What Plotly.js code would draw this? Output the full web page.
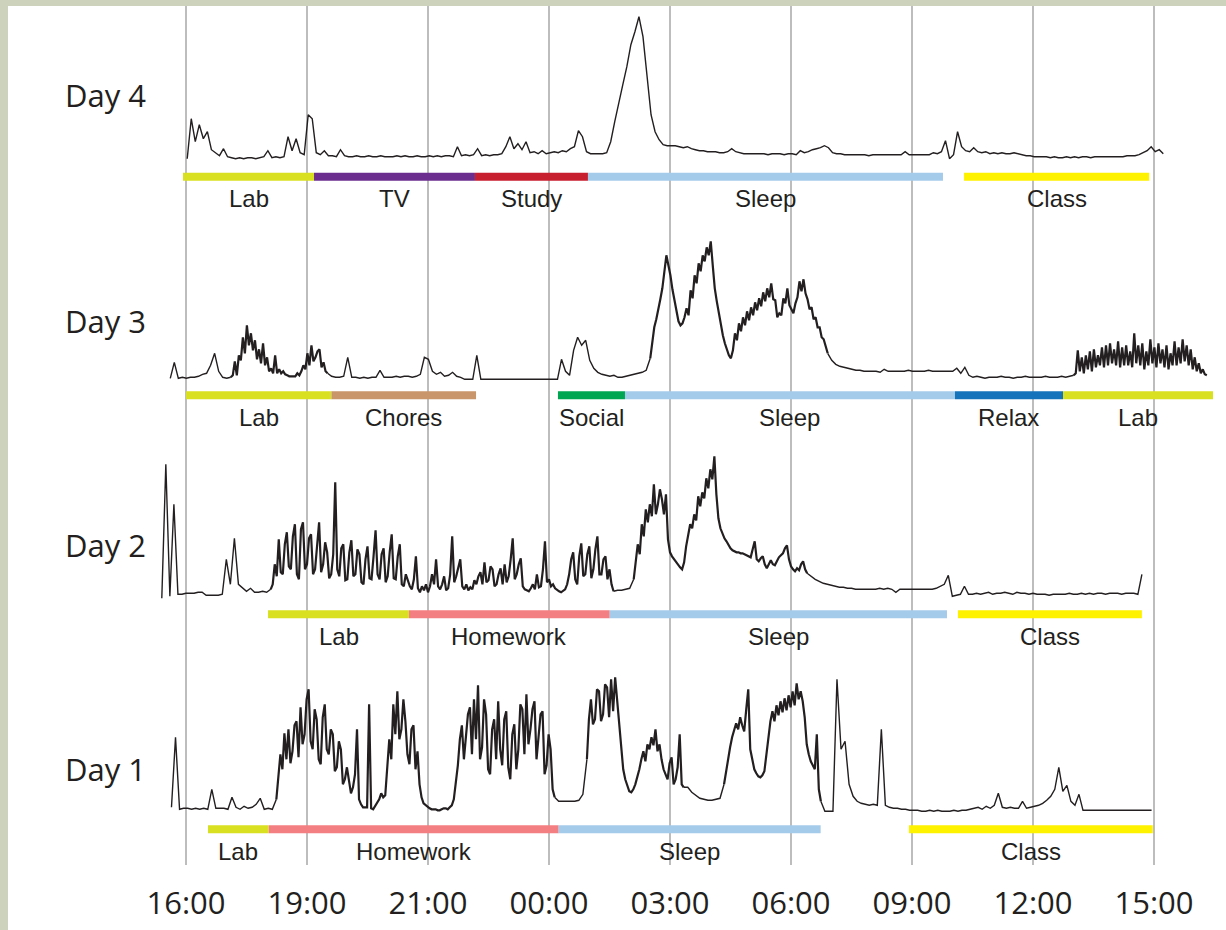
<!DOCTYPE html>
<html>
<head>
<meta charset="utf-8">
<script src="https://cdn.plot.ly/plotly-3.0.1.min.js"></script>
<style>
  html, body { margin: 0; padding: 0; background: #cdd2bc; width: 1226px; height: 930px; overflow: hidden; }
  #chart { position: absolute; left: 8px; top: 6px; width: 1218px; height: 924px; background: #ffffff; }
</style>
</head>
<body>
<div id="chart"></div>
<script>
// ---------------- DATA ----------------
const tickLabels = ['16:00', '19:00', '21:00', '00:00', '03:00', '06:00', '09:00', '12:00', '15:00'];
const dayNames = ['Day 1', 'Day 2', 'Day 3', 'Day 4'];

// Signal samples (time in tick units). Calm stretches: one sample per 1/30 tick;
// busy stretches: one sample per 1/60 tick.
const coarseStep = 1 / 30;
const fineStep = 1 / 60;

// ---- Day 4 ----
const day4SegAStart = 0.01;
const day4SegA = [
  18, 58, 35, 52, 38, 45, 27, 24, 21, 28, 20, 19,
  18, 19, 18, 19, 19, 18, 19, 20, 26, 19, 20, 19, 20,
  40, 26, 38, 24, 22, 62, 58, 24, 22,
  26, 21, 21, 20, 27, 21, 20,
  20, 21, 20, 20, 21, 20, 20, 21, 20, 20, 20, 21, 20, 21, 20, 20, 21, 20, 20, 21, 20, 21, 20, 21, 21, 20,
  30, 21, 22, 21, 22, 28, 21, 22, 21, 22, 22, 23,
  30, 40, 28, 33, 27, 35, 24, 25, 23, 26, 23, 24, 25, 24, 26, 25, 28, 30, 46, 40, 25, 23, 23, 23, 23, 24,
  35, 55, 75, 92, 110, 132, 145, 160, 140, 100, 62, 45, 37, 32, 31,
  31, 31, 30, 29, 30, 28, 27, 26, 26, 25, 25, 25, 24, 24, 25, 28, 25, 24, 23, 23,
  23, 23, 23, 23, 22, 23, 23, 23, 22, 23, 23,
  22, 26, 24, 25, 27, 28, 29, 31, 29, 24, 23,
  23, 22, 22, 22, 22, 22, 22, 21, 22, 22, 22, 22, 22, 22, 22,
  22, 25, 22, 22, 22, 22, 22, 22, 24, 23, 25,
  36, 18, 22, 45, 30, 26, 25, 29, 25, 24, 25, 23, 24, 23, 24, 23, 23, 24, 23, 22, 21, 21, 20,
  20, 20, 20, 19, 20, 19, 19, 20, 19, 20, 19, 20, 20, 19, 20, 20, 20, 20, 20,
  20, 20, 20, 21, 21, 21, 22, 24, 26, 30, 25, 27, 23
];

// ---- Day 3 ----
const day3SegAStart = -0.13;
const day3SegA = [17, 33, 17, 18, 17, 18, 18, 19, 21, 22, 30, 42, 24, 18, 17, 18];
const day3SegBStart = 0.37;
const day3SegB = [
  18, 20, 34, 20, 40, 35, 58, 42, 70, 50, 62, 45, 55, 36, 46, 32, 52, 30, 38, 24,
  27, 22, 40, 22, 26, 22, 24, 21, 20, 19, 19, 19, 19, 22, 20, 24, 30, 26, 42, 30,
  50, 34, 38, 44, 46, 28, 33, 24, 22
];
const day3SegCStart = 1.17;
const day3SegC = [
  22, 19, 18, 18, 19, 38, 18, 18, 17, 18, 17, 18, 18,
  25, 18, 18, 18, 19, 18, 19, 19, 18, 19, 21, 38, 36, 24, 21, 23, 19, 20, 23, 19, 18, 16, 16, 16, 40, 16,
  16, 16, 16, 16, 16, 16, 16, 16, 16, 16, 16, 16, 16, 16, 16, 16, 16, 16, 16,
  36, 24, 20, 45, 58, 50, 55, 35, 27, 23, 21, 20, 19, 20, 18, 18, 19, 20, 21, 22, 23, 25,
  37
];
const day3SegDStart = 3.83667;
const day3SegD = [
  37, 52, 68, 76, 88, 96, 107, 122, 140, 130, 120, 106, 94, 82, 74, 70, 72, 78, 87, 80,
  105, 97, 120, 112, 132, 124, 140, 134, 148, 140, 154, 130, 107, 94, 82, 70, 60, 52, 45, 40,
  37, 45, 62, 55, 72, 64, 78, 70, 84, 75, 88, 80, 93, 85, 97, 89, 103, 94, 107, 98,
  112, 96, 95, 78, 82, 80, 97, 92, 107, 90, 86, 82, 92, 98, 114, 104, 116, 102, 96, 86,
  88, 76, 78, 68, 68, 58, 56, 48, 42
];
const day3SegEStart = 5.30333;
const day3SegE = [
  42, 35, 31, 29, 28, 27, 26,
  25, 25, 24, 24, 24, 24, 23, 26, 24, 24, 24, 24, 24, 25, 24, 24, 24, 24, 25, 24, 24, 24, 24, 24, 24, 27, 22, 28, 20, 18, 19,
  18, 17, 18, 18, 18, 19, 18, 18, 17, 18, 18, 19, 18, 18, 18, 18, 19, 18, 18, 18, 19, 18, 19, 20
];
const day3SegFStart = 7.33667;
const day3SegF = [
  20, 22, 45, 24, 38, 22, 40, 26, 44, 24, 46, 28, 40, 30, 48, 28, 50, 30, 52, 32,
  46, 30, 54, 28, 48, 30, 50, 30, 44, 28, 62, 32, 50, 30, 52, 26, 44, 30, 56, 32,
  48, 28, 52, 32, 46, 28, 50, 26, 42, 30, 54, 30, 48, 32, 56, 34, 50, 30, 46, 26,
  38, 24, 32, 22, 26, 21, 20
];

// ---- Day 2 ----
const day2SegAStart = -0.2;
const day2SegA = [16, 150, 18, 110, 20, 20, 21, 21, 21, 22, 22, 19, 19, 19, 19, 20, 55, 30, 76, 30, 26, 23, 26, 22, 22, 23, 22, 25];
const day2SegBStart = 0.7;
const day2SegB = [
  25, 30, 50, 38, 75, 42, 40, 70, 82, 48, 45, 78, 90, 40, 35, 85, 92, 45, 50, 76,
  80, 40, 45, 70, 92, 42, 50, 72, 62, 36, 40, 60, 132, 45, 38, 66, 70, 34, 35, 62,
  74, 38, 40, 65, 60, 32, 30, 55, 68, 36, 35, 58, 84, 40, 35, 60, 66, 32, 38, 62,
  80, 36, 35, 58, 70, 30, 28, 40, 35, 28, 25, 35, 58, 26, 22, 28, 24, 30, 22, 28,
  40, 30, 55, 28, 25, 30, 38, 24, 26, 40, 78, 32, 38, 48, 55, 28, 25, 30, 24, 27,
  25, 34, 30, 38, 42, 30, 52, 32, 34, 48, 45, 28, 30, 40, 46, 30, 50, 32, 38, 55,
  76, 35, 40, 50, 56, 28, 25, 24, 23, 26, 30, 25, 40, 27, 28, 45, 73, 32, 35, 28,
  30, 26, 24, 23, 22, 24, 25, 30, 40, 55, 62, 35, 30, 58, 71, 38, 40, 60, 68, 36,
  45, 65, 78, 40, 40, 55, 58, 35, 45, 30, 23
];
const day2SegCStart = 3.53333;
const day2SegC = [23, 24, 24, 25, 26, 35];
const day2SegDStart = 3.7;
const day2SegD = [
  35, 55, 70, 60, 90, 78, 105, 92, 110, 98, 130, 100, 110, 125, 115, 100, 120, 75, 62, 58,
  55, 52, 50, 47, 45, 52, 68, 80, 90, 86, 100, 94, 118, 108, 122, 116, 136, 126, 145, 135,
  158, 120, 96, 86, 81, 76, 73, 69, 66, 64, 63, 62, 62, 61, 61, 60, 59, 58, 57, 65,
  73, 55, 53, 56, 58, 50, 46, 50, 54, 50, 49, 53, 57, 59, 61, 66, 69, 55, 48, 45,
  43, 46, 44, 50, 53, 45, 41
];
const day2SegEStart = 5.13333;
const day2SegE = [
  41, 38, 35, 33, 31, 30, 29,
  28, 27, 27, 26, 26, 25, 25, 25, 25, 25, 25, 26, 25, 26, 25, 22, 25, 25, 25, 25, 25, 25, 25, 25, 25, 26, 28, 30,
  39, 18, 19, 20, 28, 20,
  20, 21, 20, 21, 22, 20, 21, 21, 22, 21, 20, 22, 21, 21, 20, 21, 20, 20, 20, 19, 20, 20, 20, 20, 21, 20, 20, 21, 20, 21, 20, 21, 21, 20, 21, 21,
  21, 20, 21, 21, 21, 20, 40
];

// ---- Day 1 ----
const day1SegAStart = -0.12;
const day1SegA = [22, 92, 20, 21, 21, 20, 21, 20, 21, 20, 40, 21, 21, 21, 20, 32, 22, 20, 23, 21, 22, 25, 31, 20, 21, 20, 30];
const day1SegBStart = 0.74667;
const day1SegB = [
  30, 55, 75, 60, 96, 70, 100, 66, 78, 104, 108, 72, 122, 85, 95, 130, 140, 88, 80, 120,
  110, 70, 65, 112, 125, 80, 75, 100, 95, 58, 62, 88, 80, 45, 50, 62, 48, 36, 42, 55,
  100, 30, 25, 22, 22, 22, 125, 21, 20, 23, 26, 30, 36, 32, 34, 60, 90, 70, 125, 95,
  138, 90, 100, 130, 108, 75, 65, 100, 104, 60, 78, 45, 32, 26, 24, 22, 21, 20, 20, 20,
  19, 19, 20, 21, 21, 20, 22, 24, 30, 45, 64, 90, 104, 70, 90, 115, 122, 75, 130, 90,
  144, 70, 82, 130, 115, 60, 55, 100, 110, 70, 128, 80, 64, 110, 118, 62, 50, 95, 105, 60,
  80, 125, 120, 75, 135, 85, 100, 120, 128, 70, 92, 115, 118, 55, 64, 95, 80, 40, 32
];
const day1SegCStart = 3.04667;
const day1SegC = [32, 28, 28, 28, 28, 28, 29, 35, 70];
const day1SegDStart = 3.31333;
const day1SegD = [
  70, 110, 130, 105, 110, 140, 138, 108, 115, 145, 142, 112, 150, 118, 152, 130, 110, 85, 60, 50,
  43, 38, 37, 40, 45, 52, 60, 70, 78, 68, 85, 80, 92, 84, 100, 78, 85, 70, 60, 55,
  50, 66, 72, 45, 50, 62, 95, 45, 42
];
const day1SegEStart = 4.11333;
const day1SegE = [42, 42, 37, 34, 31, 30, 29, 29, 30, 31, 45];
const day1SegFStart = 4.44667;
const day1SegF = [
  45, 58, 72, 82, 92, 100, 106, 100, 112, 104, 98, 120, 140, 80, 68, 60, 56, 53, 52, 54,
  58, 75, 95, 108, 118, 108, 124, 114, 128, 117, 131, 119, 134, 122, 138, 124, 146, 130, 138, 128,
  112, 85, 75, 68, 64, 60, 95, 40, 28
];
const day1SegGStart = 5.24667;
const day1SegG = [
  28,
  18, 18, 18, 150, 80, 88, 45, 33, 28, 26, 25, 24, 25, 24, 100, 24, 22, 21, 21, 20, 20, 19, 19, 19, 18, 18, 19, 18, 19, 18, 18, 18, 19, 18, 19, 19,
  20, 21, 22, 20, 23, 21, 24, 36, 22, 21, 22, 21, 21, 28, 21, 22, 23, 24, 26, 29, 33, 40, 62, 38, 44, 28, 24, 35,
  19, 19, 19, 19, 19, 19, 19, 19, 19, 19, 19, 19, 19, 19, 19, 19, 19, 19
];

// Activities (start / end in tick units)
const day4Activities = ['Lab', 'TV', 'Study', 'Sleep', 'Class'];
const day4ActStart = [-0.025, 1.058, 2.388, 3.322, 6.43];
const day4ActEnd = [1.058, 2.388, 3.322, 6.256, 7.96];

const day3Activities = ['Lab', 'Chores', 'Social', 'Sleep', 'Relax', 'Lab'];
const day3ActStart = [0.0, 1.202, 3.074, 3.628, 6.355, 7.248];
const day3ActEnd = [1.202, 2.397, 3.628, 6.355, 7.248, 8.488];

const day2Activities = ['Lab', 'Homework', 'Sleep', 'Class'];
const day2ActStart = [0.678, 1.843, 3.502, 6.38];
const day2ActEnd = [1.843, 3.502, 6.289, 7.90];

const day1Activities = ['Lab', 'Homework', 'Sleep', 'Class'];
const day1ActStart = [0.182, 0.684, 3.08, 5.975];
const day1ActEnd = [0.684, 3.08, 5.245, 7.99];

// ---------------- STYLE / LAYOUT ----------------
const activityColors = {
  Lab: '#d8e021', TV: '#6b2e8f', Study: '#c81f2f', Sleep: '#a5cbeb', Class: '#fff200',
  Chores: '#c8966a', Social: '#00a651', Relax: '#1473bb', Homework: '#f47f82'
};
const ink = '#231f20';

const plotTopPx = 6, plotBottomPx = 865;
const days = [
  { name: dayNames[0], axis: 'y',  key: 'yaxis',  barPx: 829.3, labelUp: 60,
    parts: [[day1SegAStart, coarseStep, day1SegA], [day1SegBStart, fineStep, day1SegB], [day1SegCStart, coarseStep, day1SegC],
            [day1SegDStart, fineStep, day1SegD], [day1SegEStart, coarseStep, day1SegE], [day1SegFStart, fineStep, day1SegF],
            [day1SegGStart, coarseStep, day1SegG]],
    acts: day1Activities, s: day1ActStart, e: day1ActEnd },
  { name: dayNames[1], axis: 'y2', key: 'yaxis2', barPx: 614.3, labelUp: 69,
    parts: [[day2SegAStart, coarseStep, day2SegA], [day2SegBStart, fineStep, day2SegB], [day2SegCStart, coarseStep, day2SegC],
            [day2SegDStart, fineStep, day2SegD], [day2SegEStart, coarseStep, day2SegE]],
    acts: day2Activities, s: day2ActStart, e: day2ActEnd },
  { name: dayNames[2], axis: 'y3', key: 'yaxis3', barPx: 395.3, labelUp: 74,
    parts: [[day3SegAStart, coarseStep, day3SegA], [day3SegBStart, fineStep, day3SegB], [day3SegCStart, coarseStep, day3SegC],
            [day3SegDStart, fineStep, day3SegD], [day3SegEStart, coarseStep, day3SegE], [day3SegFStart, fineStep, day3SegF]],
    acts: day3Activities, s: day3ActStart, e: day3ActEnd },
  { name: dayNames[3], axis: 'y4', key: 'yaxis4', barPx: 176.7, labelUp: 82,
    parts: [[day4SegAStart, coarseStep, day4SegA]],
    acts: day4Activities, s: day4ActStart, e: day4ActEnd }
];

const traces = [];
const annotations = [];
const layout = {
  width: 1218, height: 924,
  margin: { l: 0, r: 0, t: 0, b: 65 },
  paper_bgcolor: '#ffffff', plot_bgcolor: '#ffffff',
  showlegend: false,
  xaxis: {
    range: [(8 - 186) / 121, (1226 - 186) / 121],
    tickmode: 'array', tickvals: tickLabels.map((_, i) => i), ticktext: tickLabels,
    showgrid: true, gridcolor: '#bdbdbd', gridwidth: 1.8,
    zeroline: false, showline: false, ticks: '',
    ticklabelstandoff: 17,
    tickfont: { family: 'Open Sans, sans-serif', size: 31, color: ink },
    fixedrange: true
  },
  annotations: annotations
};

days.forEach((d, k) => {
  layout[d.key] = {
    domain: [0, 1],
    range: [d.barPx - plotBottomPx, d.barPx - plotTopPx],
    visible: false, fixedrange: true
  };
  if (k > 0) layout[d.key].overlaying = 'y';

  d.acts.forEach((a, j) => {
    traces.push({
      type: 'scatter', mode: 'lines', x: [d.s[j], d.e[j]], y: [0, 0], yaxis: d.axis,
      line: { color: activityColors[a], width: 8 }, hoverinfo: 'skip'
    });
    annotations.push({
      x: (d.s[j] + d.e[j]) / 2, y: -22, xref: 'x', yref: d.axis,
      text: a, showarrow: false, xanchor: 'center', yanchor: 'middle',
      font: { family: 'Liberation Sans, Arial, sans-serif', size: 24, color: ink }
    });
  });

  d.parts.forEach(p => {
    const busy = p[1] === fineStep;
    traces.push({
      type: 'scatter', mode: 'lines', x0: p[0], dx: p[1], y: p[2], yaxis: d.axis,
      line: { color: ink, width: busy ? 2.2 : 1.4 }, hoverinfo: 'skip'
    });
  });

  annotations.push({
    x: (63 - 186) / 121, y: d.labelUp, xref: 'x', yref: d.axis,
    text: d.name, showarrow: false, xanchor: 'left', yanchor: 'middle',
    font: { family: 'Open Sans, sans-serif', size: 31, color: ink }
  });
});

Plotly.newPlot('chart', traces, layout, { staticPlot: true, displayModeBar: false });
</script>
</body>
</html>
